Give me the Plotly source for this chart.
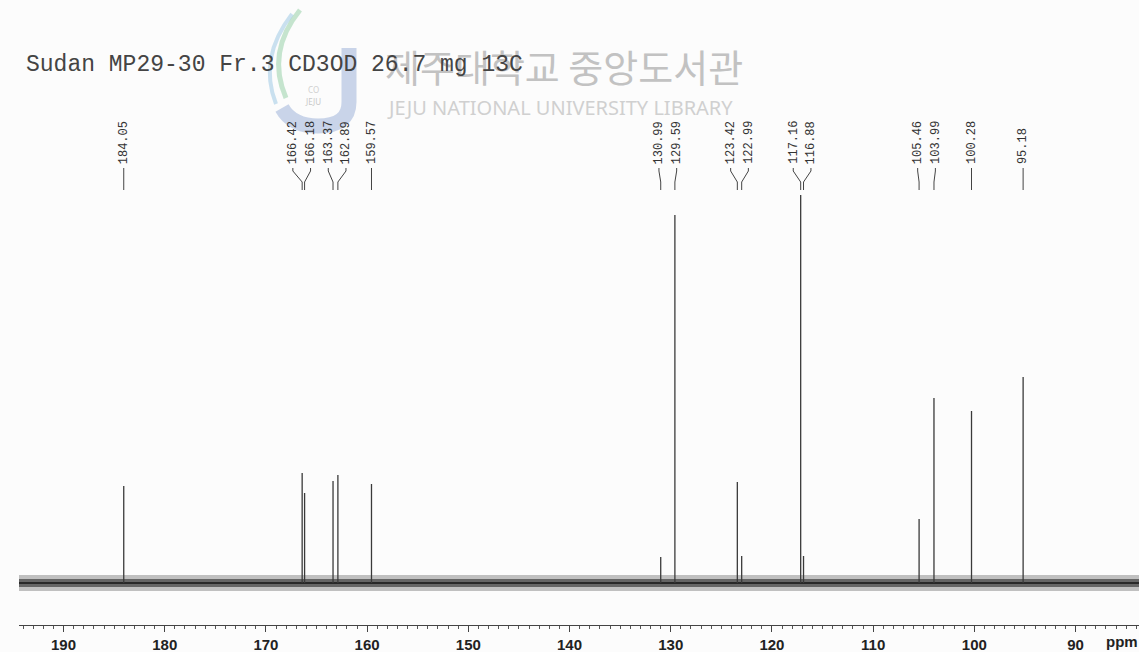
import plotly.graph_objects as go

W, H = 1139, 652

# ---------------- data ----------------
peak_ppm = [184.05, 166.42, 166.18, 163.37, 162.89, 159.57, 130.99, 129.59,
            123.42, 122.99, 117.16, 116.88, 105.46, 103.99, 100.28, 95.18]
peak_height = [97, 110, 90, 102, 108, 99, 26, 368,
               101, 27, 388, 27, 64, 185, 172, 206]
peak_labels = ["184.05", "166.42", "166.18", "163.37", "162.89", "159.57", "130.99", "129.59",
               "123.42", "122.99", "117.16", "116.88", "105.46", "103.99", "100.28", "95.18"]
tick_vals = [190, 180, 170, 160, 150, 140, 130, 120, 110, 100, 90]
tick_text = ["190", "180", "170", "160", "150", "140", "130", "120", "110", "100", "90"]
axis_unit = "ppm"
title_text = "Sudan MP29-30 Fr.3 CD3OD 26.7 mg 13C"
watermark_ko = "제주대학교 중앙도서관"
watermark_en = "JEJU NATIONAL UNIVERSITY LIBRARY"
x_range = [194.4, 83.73]
y_range = [-42, 583]

# ---------------- helpers ----------------
def px(x):
    return x / W

def py(y):
    return 1 - y / H

def spread(positions, gap):
    groups = [[p] for p in positions]
    while True:
        placed = []
        for g in groups:
            c = sum(g) / len(g)
            start = c + gap * (len(g) - 1) / 2
            placed.append([start - gap * k for k in range(len(g))])
        merged = False
        for i in range(len(groups) - 1):
            if placed[i][-1] - placed[i + 1][0] < gap:
                groups[i] = groups[i] + groups[i + 1]
                del groups[i + 1]
                merged = True
                break
        if not merged:
            return [v for grp in placed for v in grp]

label_pos = spread(peak_ppm, 1.75)

LEAD_TOP, LEAD_KINK, LEAD_BOT = 415, 401, 393

fig = go.Figure()

# baseline noise band
fig.add_trace(go.Scatter(x=x_range, y=[0, 0], mode="lines",
                         line=dict(color="rgba(80,80,80,0.35)", width=16),
                         hoverinfo="skip", showlegend=False))
fig.add_trace(go.Scatter(x=x_range, y=[0, 0], mode="lines",
                         line=dict(color="rgba(40,40,40,0.6)", width=8),
                         hoverinfo="skip", showlegend=False))
fig.add_trace(go.Scatter(x=x_range, y=[0, 0], mode="lines",
                         line=dict(color="rgba(25,25,25,0.8)", width=2),
                         hoverinfo="skip", showlegend=False))

# peaks
xs, ys = [], []
for p, h in zip(peak_ppm, peak_height):
    xs += [p, p, None]
    ys += [0, h, None]
fig.add_trace(go.Scatter(x=xs, y=ys, mode="lines",
                         line=dict(color="#3a3a3a", width=1.3),
                         hoverinfo="skip", showlegend=False))

# leader lines
lx, ly = [], []
for p, l in zip(peak_ppm, label_pos):
    lx += [l, l, p, p, None]
    ly += [LEAD_TOP, LEAD_TOP - 3, LEAD_KINK, LEAD_BOT, None]
fig.add_trace(go.Scatter(x=lx, y=ly, mode="lines",
                         line=dict(color="#444444", width=1),
                         hoverinfo="skip", showlegend=False))

annotations = []
for l, t in zip(label_pos, peak_labels):
    annotations.append(dict(x=l, y=LEAD_TOP + 2, xref="x", yref="y", text=t,
                            showarrow=False, textangle=-90, xanchor="center",
                            yanchor="bottom",
                            font=dict(family="Liberation Mono, monospace", size=12,
                                      color="#333333")))

# watermark texts
annotations.append(dict(x=px(383), y=py(66), xref="paper", yref="paper",
                        text=watermark_ko, showarrow=False, xanchor="left",
                        yanchor="middle",
                        font=dict(family="Noto Sans CJK KR", size=38, color="#c2c2c2")))
annotations.append(dict(x=px(385), y=py(107), xref="paper", yref="paper",
                        text=watermark_en, showarrow=False, xanchor="left",
                        yanchor="middle",
                        font=dict(family="Noto Sans", size=20, color="#d0d0d0")))
annotations.append(dict(x=px(313), y=py(101), xref="paper", yref="paper",
                        text="JEJU", showarrow=False, xanchor="center", yanchor="middle",
                        font=dict(family="Noto Sans", size=8, color="#c8c8c8")))
annotations.append(dict(x=px(313), y=py(89), xref="paper", yref="paper",
                        text="CO", showarrow=False, xanchor="center", yanchor="middle",
                        font=dict(family="Noto Sans", size=8, color="#d0d0d0")))

# title
annotations.append(dict(x=px(24), y=py(65), xref="paper", yref="paper",
                        text=title_text, showarrow=False, xanchor="left",
                        yanchor="middle",
                        font=dict(family="Liberation Mono, Courier New, monospace",
                                  size=23, color="#444444")))

# axis unit label (cut off at right edge as in the original)
annotations.append(dict(x=px(1104), y=py(641), xref="paper", yref="paper",
                        text=axis_unit, showarrow=False, xanchor="left",
                        yanchor="middle",
                        font=dict(family="Liberation Sans, Arial", size=15,
                                  color="#222222", weight="bold")))

shapes = [
    dict(type="path", xref="paper", yref="paper", layer="below",
         path=f"M {px(300)},{py(10)} Q {px(266)},{py(52)} {px(286)},{py(98)}",
         line=dict(color="rgba(130,200,150,0.45)", width=5)),
    dict(type="path", xref="paper", yref="paper", layer="below",
         path=f"M {px(292)},{py(14)} Q {px(258)},{py(58)} {px(276)},{py(104)}",
         line=dict(color="rgba(140,190,225,0.45)", width=4)),
    dict(type="path", xref="paper", yref="paper", layer="below",
         path=(f"M {px(349)},{py(48)} L {px(349)},{py(102)} "
               f"Q {px(349)},{py(126)} {px(318)},{py(126)} "
               f"Q {px(292)},{py(126)} {px(282)},{py(108)}"),
         line=dict(color="rgba(140,165,210,0.45)", width=15)),
]

fig.update_layout(
    width=W, height=H,
    margin=dict(l=0, r=0, t=0, b=0),
    paper_bgcolor="#fcfcfc", plot_bgcolor="rgba(0,0,0,0)",
    showlegend=False,
    annotations=annotations,
    shapes=shapes,
    xaxis=dict(range=x_range, domain=[19 / W, 1], showgrid=False, zeroline=False,
               showline=True, linecolor="#444444", linewidth=1.2,
               ticks="outside", ticklen=6, tickwidth=1, tickcolor="#444444",
               tickvals=tick_vals, ticktext=tick_text,
               tickfont=dict(family="Liberation Sans, Arial", size=15,
                             color="#222222", weight="bold"),
               minor=dict(dtick=1, ticks="outside", ticklen=3, tickcolor="#555555",
                          tickwidth=1, showgrid=False),
               fixedrange=True),
    yaxis=dict(range=y_range, domain=[27 / H, 1], visible=False, fixedrange=True),
)

fig.write_html("out.html")
